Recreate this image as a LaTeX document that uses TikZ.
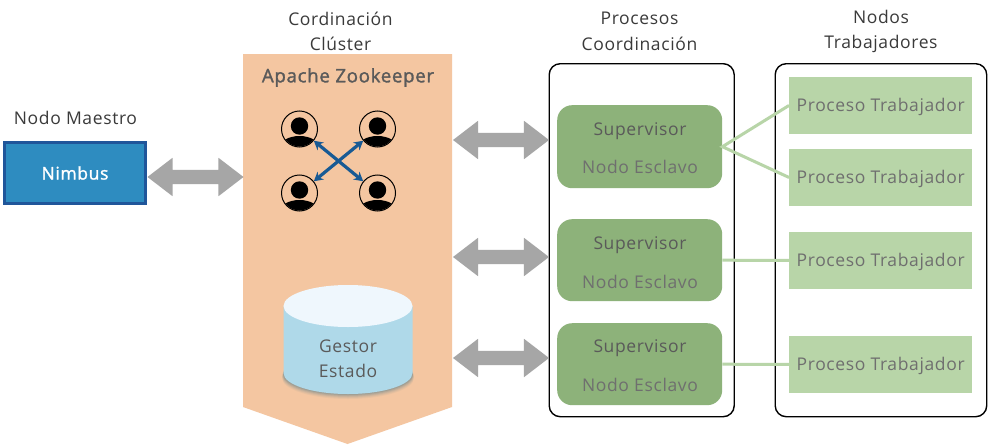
\documentclass[tikz,border=0pt]{standalone}
\usepackage{fontspec}
\setmainfont{Open Sans}[LetterSpace=3.6,AutoFakeBold=1.5]
\usetikzlibrary{shapes.arrows,arrows.meta,calc}
\definecolor{peach}{HTML}{F4C6A1}
\definecolor{gryarrow}{HTML}{A6A6A6}
\definecolor{nimfill}{HTML}{2E8CC0}
\definecolor{nimline}{HTML}{20569A}
\definecolor{supfill}{HTML}{8DB27A}
\definecolor{wrkfill}{HTML}{B8D5A8}
\definecolor{xblue}{HTML}{185A94}
\definecolor{cylbody}{HTML}{AFD9E9}
\definecolor{cyltop}{HTML}{EFF7FD}
\definecolor{cylshade}{HTML}{3F7488}
\definecolor{txtdark}{HTML}{3A3A3A}
\definecolor{txtgray}{HTML}{5A5A5A}
\definecolor{txtmid}{HTML}{6F6F6F}
\tikzset{
  lbl/.style={font=\fontsize{17.5}{25.5}\selectfont,text=txtdark,align=center,inner sep=0pt},
  gryarrow/.style={double arrow,fill=gryarrow,draw=none,inner sep=0pt,minimum height=96pt,
    double arrow head extend=12pt,double arrow tip angle=75},
  outerbox/.style={draw=black,line width=1.4pt,rounded corners=11pt,fill=white,anchor=north west,inner sep=0pt},
  supbox/.style={fill=supfill,rounded corners=15pt,anchor=north west,minimum width=165pt,inner sep=0pt},
  wrkbox/.style={fill=wrkfill,anchor=north west,minimum width=183pt,minimum height=56.5pt,inner sep=0pt,
    font=\fontsize{17.5}{20}\selectfont,text=txtmid},
  suptxt/.style={font=\fontsize{17.5}{20}\selectfont,text=txtgray,inner sep=0pt},
  esctxt/.style={font=\fontsize{17.5}{20}\selectfont,text=txtmid,inner sep=0pt},
  wire/.style={draw=wrkfill,line width=3pt},
  user/.style={circle,draw=black,line width=1pt,minimum size=36pt,inner sep=0pt},
  xarrow/.style={draw=xblue,line width=3.2pt,{Stealth[length=9pt,width=10pt]}-{Stealth[length=9pt,width=10pt]}},
}
\newcommand{\personicon}[1]{%
  \fill[black] ($(#1)+(0,-3)$) circle (8.7pt);
  \begin{scope}
    \clip (#1) circle (17.5pt);
    \fill[black] ($(#1)+(0,19)$) ellipse (20pt and 12pt);
  \end{scope}
}
\newcommand{\shaft}{\rule{0pt}{14pt}}
\newcommand{\wrktxt}{\raisebox{-6pt}[0pt][0pt]{Proceso Trabajador}}
\begin{document}
\begin{tikzpicture}[x=1pt,y=-1pt]
\useasboundingbox (0,0) rectangle (993,447);
\fill[white] (0,0) rectangle (993,447);

% header labels
\node[lbl] (t0) at (75.5,118) {Nodo Maestro};
\node[lbl] (t1) at (340.5,31.5) {Cordinación\\Clúster};
\node[lbl] (t2) at (639.5,31.5) {Procesos\\Coordinación};
\node[lbl] (t3) at (881,31.5) {Nodos\\Trabajadores};

% Nimbus
\node[fill=nimfill,draw=nimline,line width=3pt,minimum width=141pt,minimum height=61pt,inner sep=0pt,
  font=\fontsize{17.5}{20}\selectfont\bfseries,text=white] (nimbus) at (75,173) {Nimbus};

% Zookeeper band
\fill[peach] (243,54) -- (452,54) -- (452,407) -- (347.5,444) -- (243,407) -- cycle;
\node[font=\fontsize{18.7}{20}\selectfont\bfseries,text=txtgray,inner sep=0pt] (zk) at (348,77.5) {Apache Zookeeper};

% users
\node[user] (u1) at (299.5,129) {};
\node[user] (u2) at (377.5,129) {};
\node[user] (u3) at (299.5,193) {};
\node[user] (u4) at (377.5,193) {};
\personicon{u1}\personicon{u2}\personicon{u3}\personicon{u4}
\draw[xarrow] (u1) -- (u4);
\draw[xarrow] (u2) -- (u3);

% cylinder
\foreach \o/\a in {5/0.06,4/0.08,3/0.10,2/0.14,1/0.18}{
  \fill[cylshade,opacity=\a] (348,373+\o) ellipse (65+\o*0.2 and 21);
}
\fill[cylbody] (283.5,306) -- (283.5,373) arc[start angle=180,end angle=0,x radius=64.5,y radius=21] -- (412.5,306) -- cycle;
\fill[cyltop] (348,306) ellipse (64.5 and 21);
\node[lbl,text=txtgray] (cyl) at (348,358.5) {Gestor\\Estado};

% outer boxes
\node[outerbox,minimum width=185pt,minimum height=353pt] (pc) at (548.5,63) {};
\node[outerbox,minimum width=211.5pt,minimum height=353pt] (nt) at (774.5,63) {};

% supervisors
\node[supbox,minimum height=83pt] (s1) at (557,105) {};
\node[supbox,minimum height=82pt] (s2) at (557,219) {};
\node[supbox,minimum height=82pt] (s3) at (557,323) {};
\node[suptxt] at (640,131) {Supervisor};
\node[esctxt] at (640,167) {Nodo Esclavo};
\node[suptxt] at (640,245) {Supervisor};
\node[esctxt] at (640,282) {Nodo Esclavo};
\node[suptxt] at (640,348) {Supervisor};
\node[esctxt] at (640,385) {Nodo Esclavo};

% workers
\node[wrkbox] (w1) at (789,77) {\wrktxt};
\node[wrkbox] (w2) at (789,149) {\wrktxt};
\node[wrkbox] (w3) at (789,232) {\wrktxt};
\node[wrkbox] (w4) at (789,336) {\wrktxt};

\draw[wire] (w1.west) -- (s1.east) -- (w2.west);
\draw[wire] (s2.east) -- (w3.west);
\draw[wire] (s3.east) -- (w4.west);

% gray arrows
\node[gryarrow] (a0) at (195.5,177) {\shaft};
\node[gryarrow] (a1) at (501,140) {\shaft};
\node[gryarrow] (a2) at (501,257) {\shaft};
\node[gryarrow] (a3) at (501,358) {\shaft};
\end{tikzpicture}
\end{document}
